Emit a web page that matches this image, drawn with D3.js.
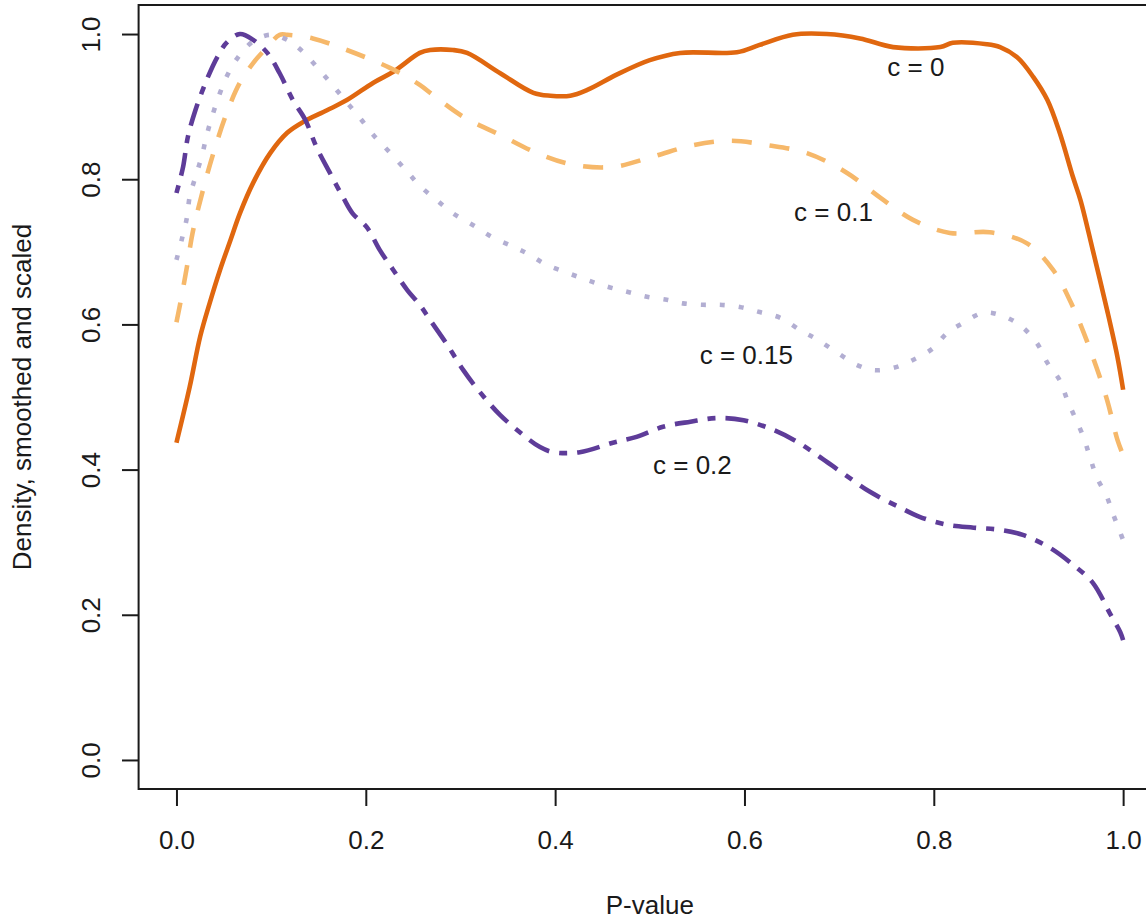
<!DOCTYPE html>
<html>
<head>
<meta charset="utf-8">
<script src="https://cdn.jsdelivr.net/npm/d3@7"></script>
<style>
  body { margin: 0; background: #fff; }
  text { font-family: "Liberation Sans", Arial, sans-serif; fill: #1a1a1a; }
</style>
</head>
<body>
<svg width="1146" height="920"></svg>
<script>
// values (P-value, scaled density)
var pC0 = [0, 0.014, 0.025, 0.035, 0.046, 0.057, 0.067, 0.081, 0.099, 0.117, 0.134, 0.159, 0.18, 0.208, 0.229, 0.257, 0.268, 0.292, 0.307, 0.342, 0.377, 0.395, 0.416, 0.434, 0.465, 0.5, 0.532, 0.592, 0.616, 0.651, 0.687, 0.722, 0.757, 0.807, 0.82, 0.856, 0.87, 0.888, 0.905, 0.92, 0.933, 0.947, 0.955, 0.968, 0.983, 0.994, 1];
var dC0 = [0.437, 0.514, 0.583, 0.629, 0.675, 0.716, 0.753, 0.795, 0.836, 0.864, 0.879, 0.895, 0.909, 0.933, 0.948, 0.974, 0.978, 0.978, 0.974, 0.946, 0.919, 0.915, 0.915, 0.923, 0.944, 0.964, 0.974, 0.975, 0.985, 0.999, 1.0, 0.994, 0.982, 0.982, 0.988, 0.986, 0.982, 0.968, 0.941, 0.909, 0.864, 0.803, 0.771, 0.702, 0.62, 0.555, 0.51];

var pC1 = [0, 0.004, 0.011, 0.017, 0.028, 0.039, 0.053, 0.067, 0.081, 0.096, 0.109, 0.117, 0.144, 0.18, 0.226, 0.257, 0.271, 0.303, 0.342, 0.381, 0.419, 0.461, 0.503, 0.546, 0.585, 0.624, 0.666, 0.708, 0.743, 0.778, 0.817, 0.859, 0.898, 0.926, 0.947, 0.968, 0.983, 0.994, 1];
var dC1 = [0.603, 0.629, 0.679, 0.726, 0.785, 0.836, 0.891, 0.933, 0.96, 0.982, 0.999, 0.999, 0.994, 0.978, 0.953, 0.93, 0.916, 0.886, 0.861, 0.836, 0.82, 0.817, 0.831, 0.847, 0.853, 0.847, 0.836, 0.809, 0.775, 0.744, 0.726, 0.727, 0.712, 0.675, 0.624, 0.555, 0.496, 0.441, 0.42];

var pC15 = [0, 0.006, 0.011, 0.014, 0.02, 0.027, 0.032, 0.038, 0.046, 0.054, 0.065, 0.08, 0.099, 0.117, 0.134, 0.148, 0.162, 0.178, 0.194, 0.208, 0.226, 0.244, 0.257, 0.275, 0.292, 0.313, 0.334, 0.356, 0.373, 0.391, 0.413, 0.434, 0.455, 0.476, 0.497, 0.518, 0.535, 0.556, 0.574, 0.595, 0.616, 0.638, 0.659, 0.677, 0.698, 0.719, 0.736, 0.757, 0.778, 0.799, 0.814, 0.831, 0.852, 0.87, 0.891, 0.909, 0.92, 0.933, 0.941, 0.958, 0.965, 0.972, 0.983, 0.989, 0.997, 1];
var dC15 = [0.689, 0.719, 0.747, 0.776, 0.803, 0.833, 0.861, 0.888, 0.919, 0.944, 0.968, 0.989, 0.999, 0.992, 0.975, 0.955, 0.934, 0.909, 0.884, 0.861, 0.836, 0.81, 0.791, 0.771, 0.753, 0.737, 0.72, 0.707, 0.696, 0.682, 0.671, 0.661, 0.652, 0.645, 0.638, 0.634, 0.629, 0.627, 0.627, 0.624, 0.617, 0.609, 0.592, 0.579, 0.561, 0.544, 0.537, 0.54, 0.551, 0.567, 0.588, 0.602, 0.616, 0.613, 0.599, 0.574, 0.547, 0.523, 0.496, 0.445, 0.417, 0.39, 0.362, 0.34, 0.313, 0.303];

var pC2 = [0, 0.007, 0.012, 0.02, 0.032, 0.043, 0.053, 0.067, 0.081, 0.096, 0.109, 0.123, 0.136, 0.148, 0.162, 0.176, 0.186, 0.201, 0.215, 0.229, 0.244, 0.257, 0.268, 0.286, 0.303, 0.321, 0.342, 0.366, 0.384, 0.398, 0.426, 0.461, 0.486, 0.514, 0.543, 0.571, 0.599, 0.63, 0.656, 0.68, 0.704, 0.733, 0.764, 0.785, 0.814, 0.842, 0.87, 0.894, 0.923, 0.947, 0.968, 0.986, 0.997, 1];
var dC2 = [0.781, 0.817, 0.858, 0.895, 0.937, 0.968, 0.988, 1.0, 0.992, 0.974, 0.946, 0.909, 0.882, 0.844, 0.809, 0.775, 0.753, 0.734, 0.702, 0.675, 0.647, 0.627, 0.606, 0.572, 0.537, 0.506, 0.475, 0.448, 0.431, 0.424, 0.424, 0.437, 0.445, 0.459, 0.466, 0.471, 0.468, 0.455, 0.438, 0.417, 0.395, 0.369, 0.348, 0.335, 0.324, 0.32, 0.317, 0.31, 0.292, 0.269, 0.244, 0.202, 0.176, 0.165];

var labels = ["c = 0", "c = 0.1", "c = 0.15", "c = 0.2"];
var labelX = [0.781, 0.694, 0.602, 0.545];
var labelY = [0.955, 0.755, 0.558, 0.406];
var colors = ["#e0670f", "#f6b86a", "#b2aed2", "#5e3c99"];
var dashes = [null, "20,18", "5,14", "8,10,23,10"];

var xTicks = [0, 0.2, 0.4, 0.6, 0.8, 1.0];
var yTicks = [0, 0.2, 0.4, 0.6, 0.8, 1.0];

var svg = d3.select("svg"),
    width = +svg.attr("width"),
    height = +svg.attr("height");

var box = {left: 138.6, right: 1161, top: 5, bottom: 789};

var x = d3.scaleLinear().domain([-0.04, 1.04]).range([box.left, box.right]);
var y = d3.scaleLinear().domain([-0.04, 1.04]).range([box.bottom, box.top]);

var series = [
  {p: pC0, d: dC0},
  {p: pC1, d: dC1},
  {p: pC15, d: dC15},
  {p: pC2, d: dC2}
];

var line = d3.line()
    .x(function(d) { return x(d[0]); })
    .y(function(d) { return y(d[1]); })
    .curve(d3.curveCatmullRom.alpha(0.5));

svg.append("g")
  .selectAll("path")
  .data(series)
  .enter().append("path")
    .attr("d", function(s) { return line(d3.zip(s.p, s.d)); })
    .attr("fill", "none")
    .attr("stroke", function(s, i) { return colors[i]; })
    .attr("stroke-width", 4.6)
    .attr("stroke-linejoin", "round")
    .attr("stroke-dasharray", function(s, i) { return dashes[i]; });

svg.append("g")
  .selectAll("text")
  .data(labels)
  .enter().append("text")
    .attr("x", function(d, i) { return x(labelX[i]); })
    .attr("y", function(d, i) { return y(labelY[i]); })
    .attr("dy", "0.35em")
    .attr("text-anchor", "middle")
    .style("font-size", "26px")
    .text(function(d) { return d; });

// plot box
svg.append("rect")
    .attr("x", box.left)
    .attr("y", box.top)
    .attr("width", box.right - box.left)
    .attr("height", box.bottom - box.top)
    .attr("fill", "none")
    .attr("stroke", "#1a1a1a")
    .attr("stroke-width", 2);

var xAxis = svg.append("g")
    .attr("transform", "translate(0," + box.bottom + ")")
    .call(d3.axisBottom(x).tickValues(xTicks).tickFormat(d3.format(".1f"))
      .tickSize(17).tickPadding(25));
xAxis.select(".domain").remove();
xAxis.selectAll("line").attr("stroke", "#1a1a1a").attr("stroke-width", 2);
xAxis.selectAll("text").style("font-size", "26px").attr("fill", "#1a1a1a")
    .style("font-family", "Liberation Sans, Arial, sans-serif");

var yAxis = svg.append("g")
    .attr("transform", "translate(" + box.left + ",0)")
    .call(d3.axisLeft(y).tickValues(yTicks).tickFormat(d3.format(".1f")).tickSize(16.6));
yAxis.select(".domain").remove();
yAxis.selectAll("line").attr("stroke", "#1a1a1a").attr("stroke-width", 2);
yAxis.selectAll("text")
    .attr("transform", "rotate(-90)")
    .attr("x", 0)
    .attr("y", -(box.left - 100))
    .attr("dy", 0)
    .attr("text-anchor", "middle")
    .attr("fill", "#1a1a1a")
    .style("font-size", "26px")
    .style("font-family", "Liberation Sans, Arial, sans-serif");

svg.append("text")
    .attr("x", (box.left + box.right) / 2)
    .attr("y", 914)
    .attr("text-anchor", "middle")
    .style("font-size", "26px")
    .text("P-value");

svg.append("text")
    .attr("transform", "translate(31," + ((box.top + box.bottom) / 2) + ") rotate(-90)")
    .attr("text-anchor", "middle")
    .style("font-size", "26px")
    .text("Density, smoothed and scaled");
</script>
</body>
</html>
